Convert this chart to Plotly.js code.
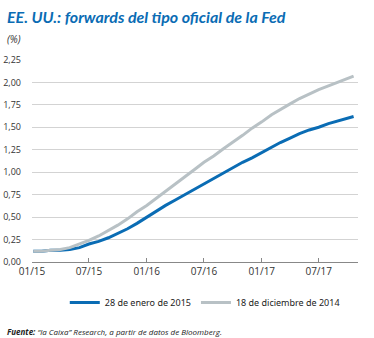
<!DOCTYPE html>
<html>
<head>
<meta charset="utf-8">
<script src="https://cdn.plot.ly/plotly-3.0.1.min.js"></script>
<style>html,body{margin:0;padding:0;background:#fff;}#chart{width:374px;height:338px;}</style>
</head>
<body>
<div id="chart"></div>
<script>
const dates = ['2015-01-05','2015-02-01','2015-03-01','2015-04-01','2015-05-01','2015-06-01','2015-07-01','2015-08-01','2015-09-01','2015-10-01','2015-11-01','2015-12-01',
  '2016-01-01','2016-02-01','2016-03-01','2016-04-01','2016-05-01','2016-06-01','2016-07-01','2016-08-01','2016-09-01','2016-10-01','2016-11-01','2016-12-01',
  '2017-01-01','2017-02-01','2017-03-01','2017-04-01','2017-05-01','2017-06-01','2017-07-01','2017-08-01','2017-09-01','2017-10-01','2017-10-20'];
const enero2015 = [0.12,0.12,0.13,0.13,0.14,0.16,0.20,0.23,0.27,0.32,0.37,0.43,
  0.50,0.57,0.63,0.69,0.75,0.81,0.87,0.93,0.99,1.05,1.11,1.16,
  1.22,1.28,1.33,1.38,1.43,1.47,1.50,1.54,1.57,1.60,1.62];
const diciembre2014 = [0.12,0.12,0.13,0.14,0.16,0.20,0.24,0.29,0.35,0.41,0.48,0.56,
  0.63,0.71,0.79,0.87,0.95,1.03,1.11,1.18,1.26,1.33,1.41,1.49,
  1.56,1.64,1.70,1.76,1.82,1.87,1.92,1.96,2.00,2.04,2.07];
const seriesNames = ['28 de enero de 2015','18 de diciembre de 2014'];

const traces = [
  {x: dates, y: enero2015, name: seriesNames[0], type: 'scatter', mode: 'lines',
   line: {color: '#0a6cb4', width: 3}},
  {x: dates, y: diciembre2014, name: seriesNames[1], type: 'scatter', mode: 'lines',
   line: {color: '#b8c1c5', width: 3}}
];

const layout = {
  width: 374, height: 338,
  margin: {l: 32, r: 16, t: 59, b: 76},
  paper_bgcolor: '#fff', plot_bgcolor: '#fff',
  separators: ',.',
  font: {family: 'Open Sans, sans-serif', size: 10, color: '#333'},
  showlegend: true,
  legend: {orientation: 'h', x: 0.53, xanchor: 'center', y: -0.2, yanchor: 'middle',
    font: {family: 'Noto Sans, sans-serif', size: 9, color: '#222'}, itemwidth: 30, traceorder: 'normal'},
  xaxis: {
    type: 'date', range: ['2015-01-01', '2017-11-03'],
    tick0: '2015-01-01', dtick: 'M6', tickformat: '%m/%y',
    showgrid: false, showline: true, linecolor: '#888', linewidth: 1,
    ticks: 'inside', ticklen: 4, tickcolor: '#888',
    tickfont: {size: 10, color: '#333'}, zeroline: false
  },
  yaxis: {
    range: [0, 2.26], tick0: 0, dtick: 0.25, tickformat: '.2f',
    showgrid: true, gridcolor: '#d3d3d3', gridwidth: 1,
    zeroline: false, showline: false, ticks: '',
    ticklabelstandoff: 10,
    tickfont: {size: 9, color: '#333'}
  },
  annotations: [
    {xref: 'paper', yref: 'paper', x: -0.083, y: 1.21, xanchor: 'left', yanchor: 'middle',
     showarrow: false,
     text: '<b><i>EE. UU.: forwards del tipo oficial de la Fed</i></b>',
     font: {family: 'Lato, sans-serif', size: 16, color: '#0a6cb4'}},
    {xref: 'paper', yref: 'paper', x: -0.083, y: 1.1, xanchor: 'left', yanchor: 'middle',
     showarrow: false, text: '<i>(%)</i>',
     font: {family: 'Open Sans, sans-serif', size: 10, color: '#333'}},
    {xref: 'paper', yref: 'paper', x: -0.083, y: -0.34, xanchor: 'left', yanchor: 'middle',
     showarrow: false,
     text: '<b><i>Fuente:</i></b><i> “la Caixa” Research, a partir de datos de Bloomberg.</i>',
     font: {family: 'Open Sans, sans-serif', size: 8, color: '#222'}}
  ]
};

Plotly.newPlot('chart', traces, layout, {displayModeBar: false, staticPlot: true});
</script>
</body>
</html>
